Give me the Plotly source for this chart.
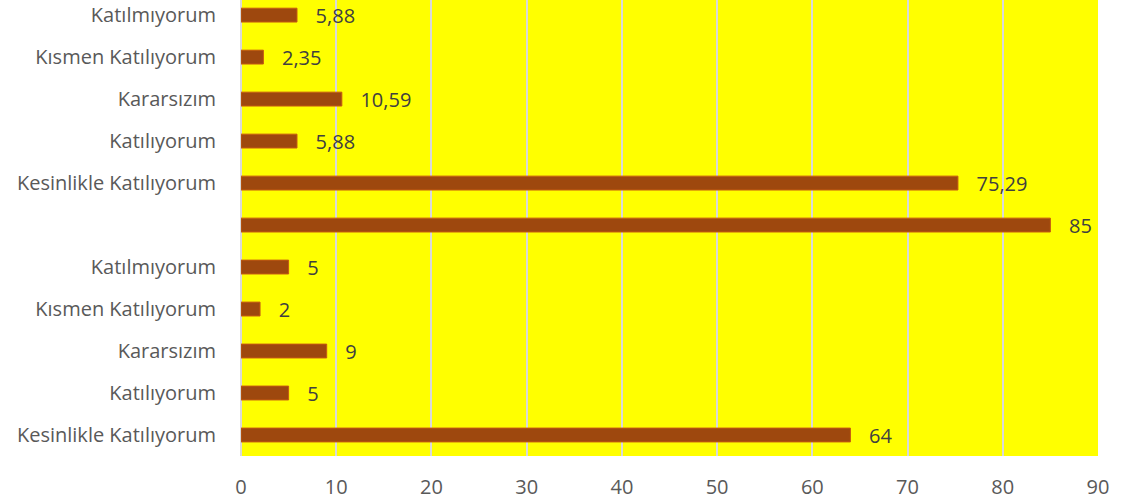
import plotly.graph_objects as go

# bottom to top
labels = ["Kesinlikle Katılıyorum", "Katılıyorum", "Kararsızım", "Kısmen Katılıyorum", "Katılmıyorum",
          "", "Kesinlikle Katılıyorum", "Katılıyorum", "Kararsızım", "Kısmen Katılıyorum", "Katılmıyorum"]
values = [64, 5, 9, 2, 5, 85, 75.29, 5.88, 10.59, 2.35, 5.88]
value_text = ["64", "5", "9", "2", "5", "85", "75,29", "5,88", "10,59", "2,35", "5,88"]
x_ticks = [0, 10, 20, 30, 40, 50, 60, 70, 80, 90]

pos = list(range(len(labels)))
FONT = "Open Sans"
FS = 20

fig = go.Figure(go.Bar(
    x=values, y=pos, orientation="h",
    marker=dict(color="#9E480E", line=dict(color="#C55A11", width=1)),
    width=0.33,
    text=value_text, texttemplate="   %{text}", textposition="outside",
    constraintext="none",
    textfont=dict(color="#404040", size=FS, family=FONT),
    cliponaxis=False, hoverinfo="skip",
))

fig.update_layout(
    width=1123, height=504,
    margin=dict(l=241, r=25, t=0, b=48),
    paper_bgcolor="white", plot_bgcolor="#FFFF00",
    showlegend=False,
    font=dict(family=FONT, color="#595959", size=FS),
    xaxis=dict(range=[0, 90], tickvals=x_ticks, showgrid=True, gridcolor="#D9D9D9", gridwidth=1.5,
               zeroline=True, zerolinecolor="#D9D9D9", zerolinewidth=1.5, ticks="", showline=False,
               automargin=False, ticklabelstandoff=17,
               tickfont=dict(size=FS, color="#595959")),
    yaxis=dict(range=[-0.5, 10.36], tickvals=pos, ticktext=labels, showgrid=False, zeroline=False,
               automargin=False, ticks="", ticklabelstandoff=24, tickfont=dict(size=FS, color="#595959")),
)
fig.write_html("out.html", config={"displayModeBar": False},
               post_script="document.body.style.margin='0';document.body.style.overflow='hidden';")
